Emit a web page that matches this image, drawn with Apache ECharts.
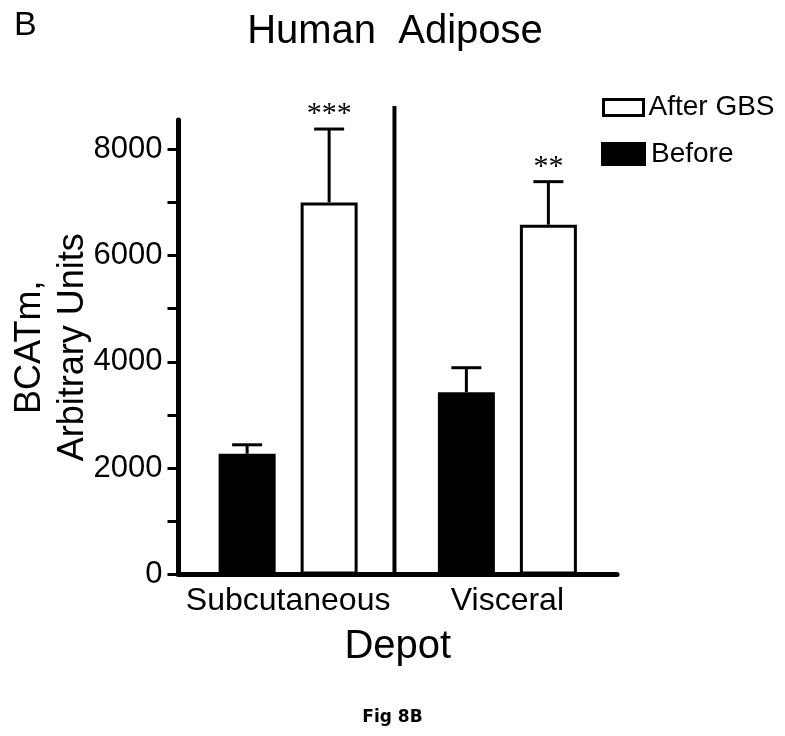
<!DOCTYPE html>
<html>
<head>
<meta charset="utf-8">
<script src="https://cdn.jsdelivr.net/npm/echarts@6/dist/echarts.min.js"></script>
<style>
html,body{margin:0;padding:0;background:#fff;}
#chart{width:785px;height:736px;}
</style>
</head>
<body>
<div id="chart"></div>
<script>
// ---- data ----
const CATEGORIES = ['Subcutaneous', 'Visceral'];
const BEFORE = [2270, 3430];
const BEFORE_ERR_TOP = [2440, 3890];
const AFTER = [7000, 6580];
const AFTER_ERR_TOP = [8380, 7390];
const AFTER_STARS = ['***', '**'];
const BEFORE_STARS = ['', ''];
const Y_TICKS = [0, 1000, 2000, 3000, 4000, 5000, 6000, 7000, 8000];
const Y_LABELS = [0, 2000, 4000, 6000, 8000];
const Y_MAX = 8550;
const SEPARATOR_X = [0.985, 0.985]; // boundary between the two depots
const SEPARATOR_Y = [0, 1];

// ---- style ----
const SANS = 'Liberation Sans';
const BAR_W = 57;
const BAR_GAP_PX = 25;
const GRID = {left: 178.5, right: 168, top: 120, bottom: 161.5};

const chart = echarts.init(document.getElementById('chart'), null, {renderer: 'canvas'});

function errSeries(name, values, errTops, stars, side) {
  return {
    name: name,
    type: 'custom',
    xAxisIndex: 0,
    yAxisIndex: 0,
    z: 5,
    silent: true,
    data: CATEGORIES.map((c, i) => [i, values[i], errTops[i]]),
    renderItem: function (params, api) {
      const base = api.coord([api.value(0), api.value(1)]);
      const top = api.coord([api.value(0), api.value(2)]);
      const x = base[0] + side * (BAR_W + BAR_GAP_PX) / 2;
      const half = 15;
      const children = [
        {type: 'line', shape: {x1: x, y1: base[1], x2: x, y2: top[1]},
         style: {stroke: '#000', lineWidth: 3}},
        {type: 'line', shape: {x1: x - half, y1: top[1], x2: x + half, y2: top[1]},
         style: {stroke: '#000', lineWidth: 3}}
      ];
      const s = stars[params.dataIndex];
      if (s) {
        children.push({type: 'text', style: {
          text: s, x: x, y: top[1], align: 'center', verticalAlign: 'bottom',
          fontFamily: 'Liberation Serif', fontSize: 30, fill: '#000'
        }});
      }
      return {type: 'group', children: children};
    }
  };
}

const option = {
  backgroundColor: '#fff',
  animation: false,
  title: [
    {text: 'Human  Adipose', left: 395, textAlign: 'center', top: 12, padding: 0,
     textStyle: {fontFamily: SANS, fontSize: 40, fontWeight: 'normal', color: '#000'}},
    {text: 'B', left: 14, top: 9, padding: 0,
     textStyle: {fontFamily: SANS, fontSize: 34, fontWeight: 'normal', color: '#000'}},
    {text: 'Fig 8B', left: 'center', top: 709, padding: 0,
     textStyle: {fontFamily: 'DejaVu Sans', fontSize: 17, fontWeight: 'bold', color: '#000'}}
  ],
  legend: [
    {data: [{name: 'After GBS', icon: 'rect', itemStyle: {color: '#fff', borderColor: '#000', borderWidth: 3}}],
     orient: 'vertical', left: 602, top: 93.5, padding: 0,
     itemWidth: 40, itemHeight: 16, selectedMode: false,
     textStyle: {fontFamily: SANS, fontSize: 28, color: '#000', lineHeight: 28}},
    {data: [{name: 'Before', icon: 'rect', itemStyle: {color: '#000', borderWidth: 0}}],
     orient: 'vertical', left: 601, top: 140, padding: 0,
     itemWidth: 45, itemHeight: 24, selectedMode: false,
     textStyle: {fontFamily: SANS, fontSize: 28, color: '#000', lineHeight: 28}}
  ],
  grid: [
    Object.assign({containLabel: false, outerBoundsMode: 'none'}, GRID),
    {left: GRID.left, right: GRID.right, top: 106, bottom: GRID.bottom,
     containLabel: false, outerBoundsMode: 'none'}
  ],
  xAxis: [
    {type: 'category', gridIndex: 0, data: CATEGORIES,
     axisLine: {show: true, lineStyle: {color: '#000', width: 5}},
     axisTick: {show: false},
     axisLabel: {interval: 0, hideOverlap: false, fontFamily: SANS, fontSize: 32, color: '#000', margin: 11},
     splitLine: {show: false},
     name: 'Depot', nameLocation: 'middle', nameGap: 52, nameMoveOverlap: false,
     nameTextStyle: {fontFamily: SANS, fontSize: 40, color: '#000'}},
    {type: 'value', gridIndex: 1, min: 0, max: 2, show: false}
  ],
  yAxis: [
    {type: 'value', gridIndex: 0, min: 0, max: Y_MAX,
     axisLine: {show: true, lineStyle: {color: '#000', width: 5}},
     axisTick: {show: true, inside: false, length: 11, customValues: Y_TICKS,
                lineStyle: {color: '#000', width: 3}},
     axisLabel: {customValues: Y_LABELS, formatter: function (v) { return String(v); },
                 fontFamily: SANS, fontSize: 31, color: '#000', margin: 16},
     splitLine: {show: false},
     name: 'BCATm,\nArbitrary Units', nameLocation: 'middle', nameGap: 84, nameRotate: 90,
     nameMoveOverlap: false,
     nameTextStyle: {fontFamily: SANS, fontSize: 36, lineHeight: 43, color: '#000', align: 'center'}},
    {type: 'value', gridIndex: 1, min: 0, max: 1, show: false}
  ],
  series: [
    {name: 'Before', type: 'bar', xAxisIndex: 0, yAxisIndex: 0, data: BEFORE,
     barWidth: BAR_W, barGap: (BAR_GAP_PX / BAR_W * 100) + '%',
     itemStyle: {color: '#000'}},
    {name: 'After GBS', type: 'bar', xAxisIndex: 0, yAxisIndex: 0, data: AFTER,
     barWidth: BAR_W, barGap: (BAR_GAP_PX / BAR_W * 100) + '%',
     itemStyle: {color: '#fff', borderColor: '#000', borderWidth: 3}},
    errSeries('errBefore', BEFORE, BEFORE_ERR_TOP, BEFORE_STARS, -1),
    errSeries('errAfter', AFTER, AFTER_ERR_TOP, AFTER_STARS, 1),
    {name: 'separator', type: 'line', xAxisIndex: 1, yAxisIndex: 1,
     data: SEPARATOR_X.map((x, i) => [x, SEPARATOR_Y[i]]),
     symbol: 'none', silent: true,
     lineStyle: {color: '#000', width: 4}}
  ]
};
chart.setOption(option);
</script>
</body>
</html>
